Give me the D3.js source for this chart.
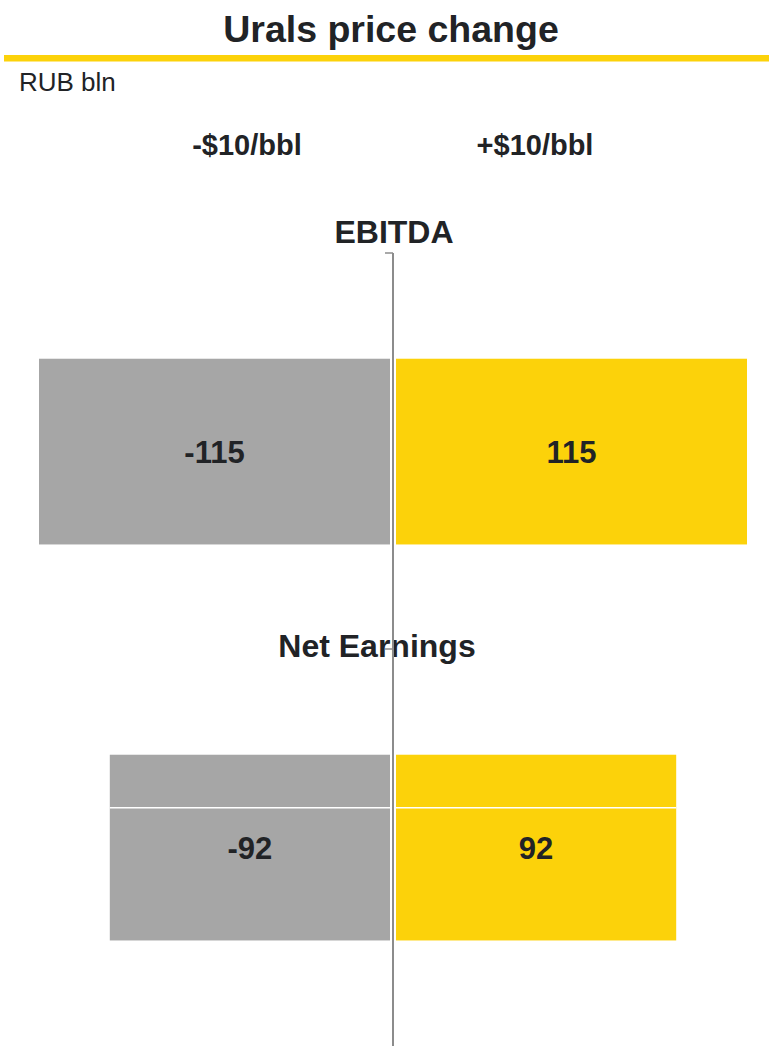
<!DOCTYPE html>
<html lang="en">
<head>
    <meta charset="utf-8">
    <script src="https://d3js.org/d3.v7.min.js"></script>
</head>
<style>
    body { margin: 0; background: #fff; }
    svg text { font-family: "Liberation Sans", Arial, sans-serif; fill: #212326; }
</style>
<body>
        <script>
            const w = 769
            const h = 1046

            // data
            const categories = ["EBITDA", "Net Earnings"]
            const series = ["-$10/bbl", "+$10/bbl"]
            const downValues = [-115, -92]
            const upValues = [115, 92]
            const title = "Urals price change"
            const unit = "RUB bln"

            const gray = "#a6a6a6"
            const yellow = "#fcd20a"

            var svg = d3.select("body")
                .append("svg")
                .attr("width", w)
                .attr("height", h);

            // header
            svg.append("text")
                .attr("x", 391).attr("y", 42)
                .attr("text-anchor", "middle")
                .attr("font-size", 37.5).attr("font-weight", "bold")
                .text(title)

            svg.append("rect")
                .attr("x", 4).attr("y", 55)
                .attr("width", w - 4).attr("height", 6.5)
                .attr("fill", yellow)

            svg.append("text")
                .attr("x", 19).attr("y", 91)
                .attr("font-size", 26)
                .text(unit)

            const maxAbs = d3.max(upValues.concat(downValues), d => Math.abs(d))

            let xScale = d3.scaleLinear()
                .domain([-maxAbs, maxAbs])
                .range([39, 747])

            let yScale = d3.scaleBand()
                .domain(categories)
                .range([253, 1045])

            const x0 = xScale(0)
            const bw = yScale.bandwidth()
            const gap = 3

            // column headers
            svg.selectAll(".series")
                .data(series)
                .enter()
                .append("text")
                .attr("x", (d, i) => i == 0 ? x0 - 146 : x0 + 142)
                .attr("y", 155)
                .attr("text-anchor", "middle")
                .attr("font-size", 29).attr("font-weight", "bold")
                .text(d => d)

            const rows = categories.map((c, i) => ({cat: c, down: downValues[i], up: upValues[i]}))

            const barTop = d => yScale(d.cat) + bw * 0.267
            const barH = bw * 0.469

            // negative bars
            svg.selectAll(".down")
                .data(rows)
                .enter()
                .append("rect")
                .attr("x", d => xScale(d.down))
                .attr("y", barTop)
                .attr("width", d => x0 - xScale(d.down) - gap)
                .attr("height", barH)
                .attr("fill", gray)

            // positive bars
            svg.selectAll(".up")
                .data(rows)
                .enter()
                .append("rect")
                .attr("x", x0 + gap)
                .attr("y", barTop)
                .attr("width", d => xScale(d.up) - x0 - gap)
                .attr("height", barH)
                .attr("fill", yellow)

            // thin white seam seen across the net earnings bars
            svg.selectAll(".seam")
                .data(rows.filter(d => d.cat == "Net Earnings"))
                .enter()
                .append("line")
                .attr("x1", d => xScale(d.down)).attr("x2", d => xScale(d.up))
                .attr("y1", d => barTop(d) + barH * 0.285)
                .attr("y2", d => barTop(d) + barH * 0.285)
                .attr("stroke", "#fff").attr("stroke-width", 1.5)

            // value labels
            svg.selectAll(".downlab")
                .data(rows)
                .enter()
                .append("text")
                .attr("x", d => (xScale(d.down) + x0 - gap) / 2)
                .attr("y", d => barTop(d) + barH / 2)
                .attr("dy", "0.37em")
                .attr("text-anchor", "middle")
                .attr("font-size", 31).attr("font-weight", "bold")
                .text(d => d.down)

            svg.selectAll(".uplab")
                .data(rows)
                .enter()
                .append("text")
                .attr("x", d => (xScale(d.up) + x0 + gap) / 2)
                .attr("y", d => barTop(d) + barH / 2)
                .attr("dy", "0.37em")
                .attr("text-anchor", "middle")
                .attr("font-size", 31).attr("font-weight", "bold")
                .text(d => d.up)

            // category labels (slightly offset like the original)
            svg.selectAll(".cat")
                .data(categories)
                .enter()
                .append("text")
                .attr("x", (d, i) => i == 0 ? x0 + 1 : x0 - 16)
                .attr("y", (d, i) => i == 0 ? yScale(d) - 10 : yScale(d) + 8)
                .attr("text-anchor", "middle")
                .attr("font-size", 32).attr("font-weight", "bold")
                .text(d => d)

            // vertical axis through zero with ticks at band starts
            svg.append("line")
                .attr("x1", x0).attr("x2", x0)
                .attr("y1", yScale.range()[0]).attr("y2", h)
                .attr("stroke", "#8c8c8c").attr("stroke-width", 2)

            svg.selectAll(".tick")
                .data(categories)
                .enter()
                .append("line")
                .attr("x1", x0 - 8).attr("x2", x0)
                .attr("y1", d => yScale(d)).attr("y2", d => yScale(d))
                .attr("stroke", "#8c8c8c").attr("stroke-width", 1.5)
        </script>
    </body>
</html>
